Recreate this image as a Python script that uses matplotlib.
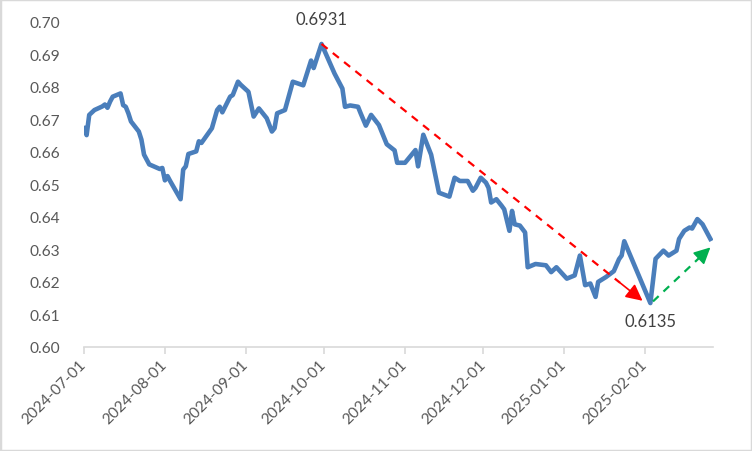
import numpy as np
import matplotlib
matplotlib.use("Agg")
import matplotlib.pyplot as plt
import matplotlib.dates as mdates
from matplotlib.patches import Rectangle

plt.rcParams['font.family'] = ['Lato', 'DejaVu Sans']

# Data
dates = ["2024-07-01", "2024-07-02", "2024-07-03", "2024-07-05", "2024-07-08", "2024-07-09",
         "2024-07-10", "2024-07-11", "2024-07-12", "2024-07-15", "2024-07-16", "2024-07-17",
         "2024-07-18", "2024-07-19", "2024-07-22", "2024-07-23", "2024-07-24", "2024-07-26",
         "2024-07-30", "2024-07-31", "2024-08-01", "2024-08-02", "2024-08-03", "2024-08-07",
         "2024-08-08", "2024-08-09", "2024-08-10", "2024-08-13", "2024-08-14", "2024-08-15",
         "2024-08-19", "2024-08-21", "2024-08-22", "2024-08-23", "2024-08-26", "2024-08-27",
         "2024-08-29", "2024-08-30", "2024-09-02", "2024-09-04", "2024-09-06", "2024-09-09",
         "2024-09-11", "2024-09-12", "2024-09-13", "2024-09-16", "2024-09-19", "2024-09-23",
         "2024-09-26", "2024-09-27", "2024-09-30", "2024-10-05", "2024-10-08", "2024-10-09",
         "2024-10-11", "2024-10-14", "2024-10-15", "2024-10-17", "2024-10-19", "2024-10-22",
         "2024-10-25", "2024-10-28", "2024-10-29", "2024-11-01", "2024-11-05", "2024-11-06",
         "2024-11-08", "2024-11-11", "2024-11-14", "2024-11-18", "2024-11-20", "2024-11-22",
         "2024-11-25", "2024-11-27", "2024-11-28", "2024-11-30", "2024-12-02", "2024-12-03",
         "2024-12-04", "2024-12-06", "2024-12-08", "2024-12-09", "2024-12-11", "2024-12-12",
         "2024-12-13", "2024-12-15", "2024-12-17", "2024-12-18", "2024-12-21", "2024-12-25",
         "2024-12-27", "2024-12-29", "2025-01-02", "2025-01-05", "2025-01-07", "2025-01-09",
         "2025-01-11", "2025-01-13", "2025-01-14", "2025-01-17", "2025-01-20", "2025-01-22",
         "2025-01-23", "2025-01-24", "2025-02-03", "2025-02-05", "2025-02-08", "2025-02-10",
         "2025-02-13", "2025-02-14", "2025-02-16", "2025-02-18", "2025-02-19", "2025-02-21",
         "2025-02-23", "2025-02-26"]
values = [0.6672, 0.6651, 0.6713, 0.6728, 0.6739, 0.6745,
          0.6735, 0.6754, 0.6769, 0.6779, 0.6743, 0.6738,
          0.6718, 0.6693, 0.6662, 0.6637, 0.6591, 0.6561,
          0.6547, 0.6550, 0.6512, 0.6525, 0.6510, 0.6454,
          0.6545, 0.6555, 0.6593, 0.6601, 0.6632, 0.6627,
          0.6672, 0.6728, 0.6738, 0.6721, 0.6769, 0.6774,
          0.6815, 0.6806, 0.6784, 0.6708, 0.6733, 0.6703,
          0.6662, 0.6672, 0.6718, 0.6728, 0.6815, 0.6804,
          0.6880, 0.6857, 0.6931, 0.6840, 0.6794, 0.6738,
          0.6742, 0.6738, 0.6718, 0.6680, 0.6713, 0.6682,
          0.6623, 0.6604, 0.6566, 0.6566, 0.6605, 0.6555,
          0.6652, 0.6591, 0.6474, 0.6462, 0.6520, 0.6510,
          0.6510, 0.6480, 0.6489, 0.6520, 0.6505, 0.6489,
          0.6444, 0.6454, 0.6434, 0.6423, 0.6357, 0.6418,
          0.6377, 0.6373, 0.6352, 0.6245, 0.6255, 0.6251,
          0.6230, 0.6245, 0.6210, 0.6220, 0.6281, 0.6190,
          0.6195, 0.6154, 0.6200, 0.6215, 0.6233, 0.6270,
          0.6281, 0.6325, 0.6135, 0.6271, 0.6296, 0.6281,
          0.6296, 0.6332, 0.6357, 0.6367, 0.6364, 0.6393,
          0.6377, 0.6332]

month_ticks = ["2024-07-01", "2024-08-01", "2024-09-01", "2024-10-01",
               "2024-11-01", "2024-12-01", "2025-01-01", "2025-02-01"]
y_ticks = [0.60, 0.61, 0.62, 0.63, 0.64, 0.65, 0.66, 0.67, 0.68, 0.69, 0.70]

# trend arrows (start / end)
down_start, down_end = ("2024-09-30", 0.6931), ("2025-01-31", 0.6142)
up_start, up_end = ("2025-02-04", 0.6140), ("2025-02-26", 0.6306)

x = mdates.datestr2num(dates)
y = np.array(values)

fig = plt.figure(figsize=(7.52, 4.52), dpi=100)
fig.patches.append(Rectangle((0, 0), 1, 1, transform=fig.transFigure, fill=False,
                             edgecolor="#d9d9d9", lw=2.5))
ax = fig.add_axes([84 / 752, 104 / 452, 629 / 752, 325.5 / 452])

ax.plot(x, y, color="#4a7ebb", lw=3.3, solid_joinstyle="round", zorder=3)


def trend_arrow(p0, p1, col):
    x0, x1 = mdates.datestr2num(p0[0]), mdates.datestr2num(p1[0])
    y0, y1 = p0[1], p1[1]
    # dashed shaft, then a solid head
    f = 0.93
    xm, ym = x0 + f * (x1 - x0), y0 + f * (y1 - y0)
    ax.plot([x0, xm], [y0, ym], color=col, lw=1.6, ls=(0, (3.5, 3)), zorder=4)
    ax.annotate("", xy=(x1, y1), xytext=(xm, ym),
                arrowprops=dict(arrowstyle="-|>,head_length=1.0,head_width=0.5",
                                color=col, lw=1.2, shrinkA=0, shrinkB=0), zorder=4)


trend_arrow(down_start, down_end, "#ff0000")
trend_arrow(up_start, up_end, "#00b050")

i_max = int(np.argmax(y))
i_min = int(np.argmin(y))
ax.text(x[i_max], y[i_max] + 0.0077, f"{y[i_max]:.4f}", ha="center", va="center",
        fontsize=12, color="#404040")
ax.text(x[i_min], y[i_min] - 0.0055, f"{y[i_min]:.4f}", ha="center", va="center",
        fontsize=12, color="#404040")

ax.set_xlim(mdates.datestr2num("2024-07-01"), mdates.datestr2num("2025-02-27"))
ax.set_ylim(0.60, 0.70)
ax.set_yticks(y_ticks)
ax.set_yticklabels([f"{v:.2f}" for v in y_ticks])
ax.set_xticks(mdates.datestr2num(month_ticks))
ax.set_xticklabels(month_ticks, rotation=45, ha="right", va="center", rotation_mode="anchor")

for s in ["top", "right", "left"]:
    ax.spines[s].set_visible(False)
ax.spines["bottom"].set_color("#d9d9d9")
ax.spines["bottom"].set_linewidth(1.2)
ax.tick_params(axis="y", length=0, pad=17, labelsize=11.2, labelcolor="#595959")
ax.tick_params(axis="x", length=5, color="#d9d9d9", width=1.2, pad=6,
               labelsize=11.2, labelcolor="#595959")

plt.savefig("out.png", dpi=100)
